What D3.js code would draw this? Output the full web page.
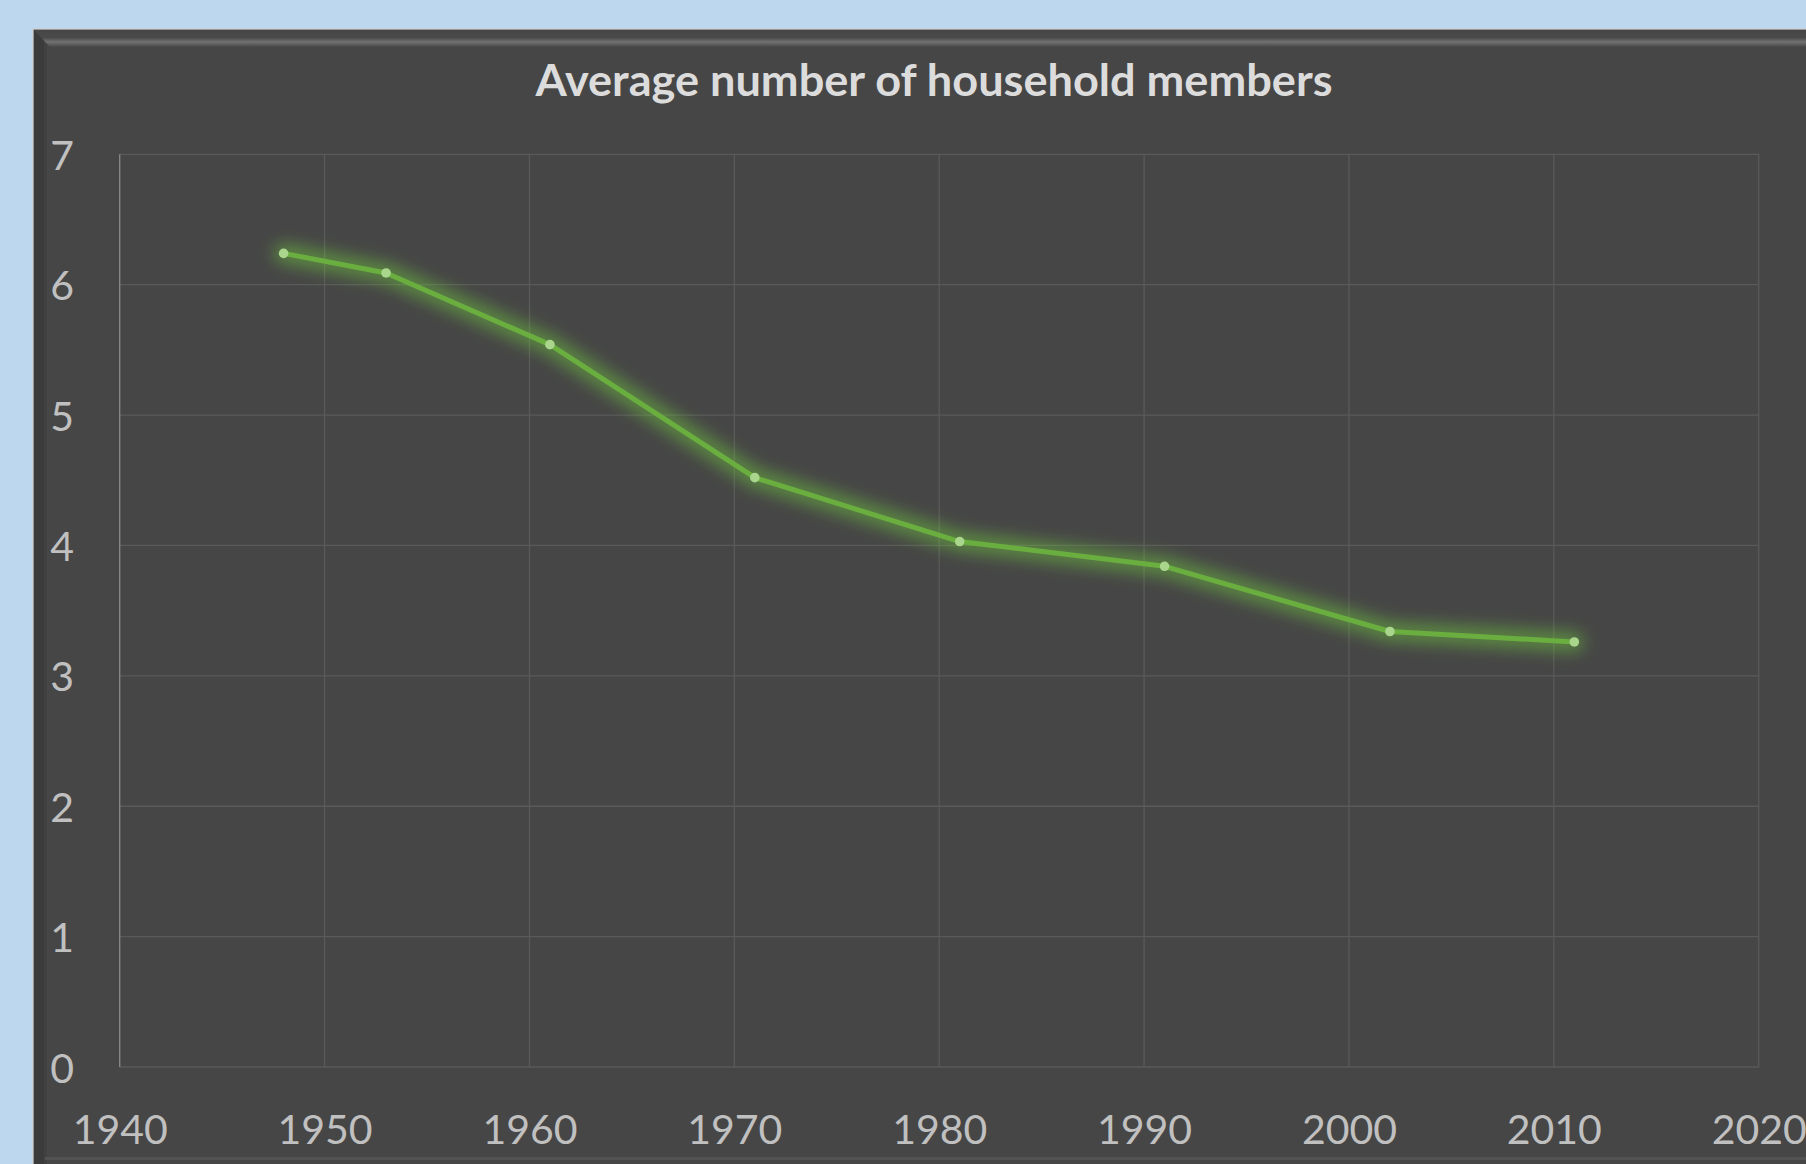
<!DOCTYPE html>
<html>
<head>
<meta charset="utf-8">
<script src="https://cdn.jsdelivr.net/npm/d3@7"></script>
<style>
  html, body { margin: 0; padding: 0; background: #bdd7ee; }
  svg { display: block; }
</style>
</head>
<body>
<svg id="chart" width="1806" height="1164"></svg>
<script>
const years = [1948, 1953, 1961, 1971, 1981, 1991, 2002, 2011];
const values = [6.24, 6.09, 5.54, 4.52, 4.03, 3.84, 3.34, 3.26];
const xTicks = [1940, 1950, 1960, 1970, 1980, 1990, 2000, 2010, 2020];
const yTicks = [0, 1, 2, 3, 4, 5, 6, 7];
const titleText = "Average number of household members";

(function () {
const svg = d3.select("#chart");
const W = 1806, H = 1164;

const pLeft = 119.7, pRight = 1758.7, pTop = 154.3, pBottom = 1067;
const x = d3.scaleLinear().domain([1940, 2020]).range([pLeft, pRight]);
const y = d3.scaleLinear().domain([0, 7]).range([pBottom, pTop]);

const defs = svg.append("defs");
const glow = defs.append("filter").attr("id", "glow")
  .attr("x", "-10%").attr("y", "-30%").attr("width", "120%").attr("height", "160%");
glow.append("feGaussianBlur").attr("stdDeviation", 8);

const topGrad = defs.append("linearGradient").attr("id", "topBevel")
  .attr("x1", 0).attr("y1", 0).attr("x2", 0).attr("y2", 1);
topGrad.append("stop").attr("offset", "0%").attr("stop-color", "#464646");
topGrad.append("stop").attr("offset", "45%").attr("stop-color", "#4a4a4a");
topGrad.append("stop").attr("offset", "70%").attr("stop-color", "#727272");
topGrad.append("stop").attr("offset", "100%").attr("stop-color", "#474747");

// panel
svg.append("rect").attr("x", 33).attr("y", 29).attr("width", W - 33 + 10).attr("height", H - 29 + 10)
  .attr("fill", "#464646").attr("stroke", "#cfcfcf").attr("stroke-width", 1.2);
// left shadow band
svg.append("rect").attr("x", 34).attr("y", 30).attr("width", 10).attr("height", H - 30)
  .attr("fill", "#3b3b3b");
svg.append("rect").attr("x", 44).attr("y", 40).attr("width", 3).attr("height", H - 40)
  .attr("fill", "#414141");
// top highlight band
svg.append("path")
  .attr("d", `M34,30 L${W},30 L${W},47 L50,47 Z`)
  .attr("fill", "url(#topBevel)");
// bottom highlight
svg.append("rect").attr("x", 45).attr("y", 1157).attr("width", W - 45).attr("height", 3)
  .attr("fill", "#525252");

// gridlines
const g = svg.append("g");
g.selectAll(".hgrid").data(yTicks).join("line")
  .attr("x1", pLeft).attr("x2", pRight)
  .attr("y1", d => y(d)).attr("y2", d => y(d))
  .attr("stroke", "#5a5a5a").attr("stroke-width", 1.3);
g.selectAll(".vgrid").data(xTicks).join("line")
  .attr("x1", d => x(d)).attr("x2", d => x(d))
  .attr("y1", pTop).attr("y2", pBottom)
  .attr("stroke", d => d === 1940 ? "#8a8a8a" : "#5a5a5a").attr("stroke-width", 1.3);

// axis labels via d3 axes
const xAxis = d3.axisBottom(x).tickValues(xTicks).tickFormat(d3.format("d")).tickSize(0).tickPadding(0);
const xa = svg.append("g").attr("transform", `translate(0,${pBottom})`).call(xAxis);
xa.select(".domain").remove();
xa.selectAll("text").attr("fill", "#c0c0c0").attr("font-family", "Lato, 'Open Sans', sans-serif")
  .attr("font-size", 41).attr("dy", null).attr("y", 77);

const yAxis = d3.axisLeft(y).tickValues(yTicks).tickFormat(d3.format("d")).tickSize(0).tickPadding(0);
const ya = svg.append("g").attr("transform", `translate(74,0)`).call(yAxis);
ya.select(".domain").remove();
ya.selectAll("text").attr("fill", "#c0c0c0").attr("font-family", "Lato, 'Open Sans', sans-serif")
  .attr("font-size", 41).attr("dy", null).attr("x", 0).attr("y", 15).attr("text-anchor", "end");

// title
const title = svg.append("text").attr("x", 934).attr("y", 96)
  .attr("text-anchor", "middle").attr("fill", "#dcdcdc")
  .attr("font-family", "Lato, 'Open Sans', sans-serif").attr("font-weight", "bold")
  .attr("font-size", 44).text(titleText);
title.attr("textLength", 797).attr("lengthAdjust", "spacingAndGlyphs");

// line
const pts = years.map((yr, i) => [yr, values[i]]);
const line = d3.line().x(d => x(d[0])).y(d => y(d[1]));
svg.append("path").datum(pts).attr("d", line)
  .attr("fill", "none").attr("stroke", "#6fc93c").attr("stroke-opacity", 0.5)
  .attr("stroke-width", 20).attr("stroke-linejoin", "round").attr("stroke-linecap", "round")
  .attr("filter", "url(#glow)");
svg.append("path").datum(pts).attr("d", line)
  .attr("fill", "none").attr("stroke", "#6aae3f").attr("stroke-width", 5)
  .attr("stroke-linejoin", "round");
svg.selectAll(".pt").data(pts).join("circle")
  .attr("cx", d => x(d[0])).attr("cy", d => y(d[1])).attr("r", 4.8)
  .attr("fill", "#a9d58c");
})();
</script>
</body>
</html>
